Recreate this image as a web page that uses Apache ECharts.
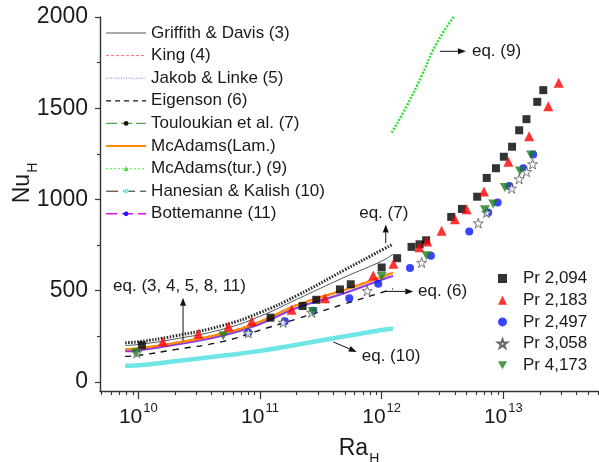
<!DOCTYPE html>
<html>
<head>
<meta charset="utf-8">
<script src="https://cdn.jsdelivr.net/npm/echarts@6/dist/echarts.min.js"></script>
<style>
  html, body { margin: 0; padding: 0; background: #fff; }
  #chart { width: 599px; height: 462px; }
</style>
</head>
<body>
<div id="chart"></div>
<script>
// ---- correlation curves: Ra_H sample points and Nu_H per correlation ----
const curveRa = [7.8e9, 1e10, 2e10, 5e10, 1e11, 2e11, 5e11, 1e12, 1.24e12];
const nuGriffith   = [200, 205, 235, 290, 360, 452, 575, 662, 700];
const nuKing       = [181, 187, 217, 270, 334, 424, 510, 580, 603];
const nuJakob      = [170, 175, 206, 257, 320, 407, 490, 563, 583];
const nuEigenson   = [140, 145, 177, 222, 284, 345, 428, 490, 510];
const nuTouloukian = [215, 220, 252, 310, 380, 472, 615, 722, 755];
const nuMcAdamsLam = [178, 184, 213, 266, 330, 420, 505, 575, 598];
const nuHanesian   = [88, 91, 113, 144, 170, 204, 250, 284, 292];
const nuBottemanne = [168, 173, 204, 255, 318, 405, 487, 560, 580];
// turbulent McAdams branch (runs off the top of the plot)
const raMcAdamsTur = [1.21e12, 1.6e12, 2.14e12, 2.8e12, 3.9e12];
const nuMcAdamsTur = [1366, 1510, 1680, 1850, 2000];

// ---- measurements, one pair of arrays per Prandtl number ----
const ra2094 = [1.07e10, 1.22e11, 2.24e11, 2.90e11, 4.54e11, 5.57e11, 1.0e12, 1.34e12, 1.76e12, 2.05e12, 2.32e12,
                3.73e12, 4.57e12, 6.1e12, 7.3e12, 8.7e12, 1.01e13, 1.18e13, 1.35e13, 1.55e13, 1.90e13, 2.13e13];
const nu2094 = [201, 352, 416, 450, 507, 535, 627, 678, 740, 754, 776,
                904, 948, 1015, 1118, 1171, 1234, 1289, 1379, 1440, 1535, 1599];
const ra2183 = [1.59e10, 3.11e10, 5.5e10, 8.55e10, 1.82e11, 3.42e11, 8.53e11, 1.25e12, 2.04e12, 2.37e12,
                3.11e12, 4.0e12, 4.99e12, 6.93e12, 1.10e13, 1.63e13, 2.34e13, 2.85e13];
const nu2183 = [222, 264, 304, 332, 396, 459, 583, 647, 738, 769,
                828, 892, 946, 1043, 1207, 1347, 1511, 1639];
const ra2497 = [8.02e10, 1.60e11, 2.74e11, 5.42e11, 9.37e11, 1.71e12, 2.54e12, 5.25e12, 7.51e12, 8.98e12,
                1.12e13, 1.46e13, 1.76e13];
const nu2497 = [271, 332, 390, 459, 538, 624, 691, 824, 928, 983, 1074, 1171, 1247];
const ra3058 = [9.7e9, 8.0e10, 1.55e11, 2.66e11, 7.62e11, 2.13e12, 6.22e12, 7.29e12, 1.17e13, 1.35e13, 1.55e13, 1.74e13];
const nu3058 = [159, 268, 326, 381, 499, 654, 870, 928, 1061, 1112, 1152, 1194];
const ra4173 = [9.6e9, 4.99e10, 2.71e11, 1.0e12, 2.34e12, 7.06e12, 8.26e12, 1.03e13, 1.37e13, 1.69e13];
const nu4173 = [159, 253, 386, 578, 691, 943, 975, 1065, 1156, 1243];

// ---- axis ticks ----
const xMajorTicks = [1e10, 1e11, 1e12, 1e13];
const yMajorTicks = [0, 500, 1000, 1500, 2000];
const yMinorTicks = [250, 750, 1250, 1750];
const xMin = 4.84e9, xMax = 6e13;
const yMin = -50, yMax = 2000;

const xMinorTicks = [];
for (let d = 9; d <= 13; d++) {
  for (let k = 2; k <= 9; k++) {
    const v = k * Math.pow(10, d);
    if (v >= xMin && v <= xMax) xMinorTicks.push(v);
  }
}

const FONT = 'Liberation Sans, Arial, Helvetica, sans-serif';
const TEXT = '#1a1a1a';
const AXIS = '#333';

const pairs = (xs, ys) => xs.map((x, i) => [x, ys[i]]);

function curve(name, ys, lineStyle) {
  return {
    name, type: 'line', data: pairs(curveRa, ys),
    smooth: true, symbol: 'circle', showSymbol: false,
    lineStyle, itemStyle: { color: lineStyle.color }, z: 2
  };
}

function points(name, xs, ys, symbol, size, itemStyle) {
  return {
    name, type: 'scatter', data: pairs(xs, ys),
    symbol, symbolSize: size, itemStyle, z: 5
  };
}

const starPath = 'path://M50,0 L61.8,35.1 L98.9,35.1 L68.8,56.7 L80.2,91.9 L50,70.2 L19.8,91.9 L31.2,56.7 L1.1,35.1 L38.2,35.1 Z';
const downTri = 'path://M0,0 L10,0 L5,9 Z';

const series = [
  curve('Hanesian & Kalish (10)', nuHanesian, { color: '#6fe6e6', width: 4.5 }),
  curve('Eigenson (6)', nuEigenson, { color: '#111', width: 1.4, type: [6, 6] }),
  curve('Jakob & Linke (5)', nuJakob, { color: '#6666dd', width: 1, type: [1, 2] }),
  curve('Bottemanne (11)', nuBottemanne, { color: '#8d3fe0', width: 2.2 }),
  curve('King (4)', nuKing, { color: '#ff5a6e', width: 1, type: [4, 3] }),
  curve('McAdams(Lam.)', nuMcAdamsLam, { color: '#ff8a00', width: 2.2 }),
  curve('Griffith & Davis (3)', nuGriffith, { color: '#555', width: 1 }),
  curve('Touloukian et al. (7)', nuTouloukian, { color: '#2a2a2a', width: 3, type: [1.5, 1.5] }),
  {
    name: 'McAdams(tur.) (9)', type: 'line', data: pairs(raMcAdamsTur, nuMcAdamsTur),
    smooth: true, symbol: 'triangle', showSymbol: false,
    lineStyle: { color: '#33dd33', width: 2.5, type: [2, 1.5] },
    itemStyle: { color: '#33dd33' }, z: 2
  },
  points('Pr 2,094', ra2094, nu2094, 'rect', 8, { color: '#000' }),
  points('Pr 2,183', ra2183, nu2183, 'triangle', 10, { color: '#ff0000' }),
  points('Pr 2,497', ra2497, nu2497, 'circle', 8, { color: '#0a14ff' }),
  points('Pr 3,058', ra3058, nu3058, starPath, 10, { color: '#fff', borderColor: '#444', borderWidth: 0.9 }),
  points('Pr 4,173', ra4173, nu4173, downTri, [10, 9], { color: '#1e7d1e' })
];

const hidden = { opacity: 0 };
const curveLegend = [
  { name: 'Griffith & Davis (3)', itemStyle: hidden, lineStyle: { color: '#555', width: 1, type: 'solid' } },
  { name: 'King (4)', itemStyle: hidden, lineStyle: { color: '#ff6a7a', width: 1, type: [3, 2] } },
  { name: 'Jakob & Linke (5)', itemStyle: hidden, lineStyle: { color: '#7777dd', width: 1, type: [1, 1.5] } },
  { name: 'Eigenson (6)', itemStyle: hidden, lineStyle: { color: '#111', width: 1.3, type: [5, 4] } },
  { name: 'Touloukian et al. (7)', itemStyle: { color: '#111' }, lineStyle: { color: '#4aa84a', width: 1.2, type: [11, 4] } },
  { name: 'McAdams(Lam.)', itemStyle: hidden, lineStyle: { color: '#ff8a00', width: 2.2, type: 'solid' } },
  { name: 'McAdams(tur.) (9)', itemStyle: { color: '#44dd44' }, lineStyle: { color: '#66ee66', width: 1.2, type: [2, 2] } },
  { name: 'Hanesian & Kalish (10)', itemStyle: { color: '#8fe8e8' }, lineStyle: { color: '#222', width: 1, type: [12, 5] } },
  { name: 'Bottemanne (11)', itemStyle: { color: '#1a1aff' }, lineStyle: { color: '#e010e0', width: 1.6, type: [11, 5] } }
];

const chart = echarts.init(document.getElementById('chart'), null, { renderer: 'canvas' });

const sup = (v) => '{b|10}{s|' + Math.round(Math.log10(v)) + '}';

chart.setOption({
  animation: false,
  backgroundColor: '#fff',
  textStyle: { fontFamily: FONT, color: TEXT },
  grid: { left: 100, right: 1, top: 17, bottom: 71, containLabel: false, outerBoundsMode: 'none' },
  legend: [
    {
      orient: 'vertical', left: 105, top: 24, padding: 0,
      itemWidth: 40, itemHeight: 6, itemGap: 4.6,
      selectedMode: false,
      textStyle: { fontSize: 17, lineHeight: 18, color: TEXT, fontFamily: FONT },
      data: curveLegend
    },
    {
      orient: 'vertical', left: 497, top: 270, padding: 0,
      itemWidth: 9, itemHeight: 9, itemGap: 4.7,
      selectedMode: false,
      textStyle: { fontSize: 17, lineHeight: 17, color: TEXT, fontFamily: FONT, padding: [0, 0, 0, 11] },
      data: ['Pr 2,094', 'Pr 2,183', 'Pr 2,497', 'Pr 3,058', 'Pr 4,173']
    }
  ],
  xAxis: [
    {
      type: 'log', logBase: 10, min: xMin, max: xMax, position: 'bottom',
      name: '{a|Ra}{h|H}', nameLocation: 'middle', nameGap: 43, nameMoveOverlap: false,
      nameTextStyle: {
        padding: [0, 0, 0, 20],
        rich: {
          a: { fontSize: 23, fontFamily: FONT, color: TEXT, lineHeight: 26, verticalAlign: 'bottom' },
          h: { fontSize: 14, fontFamily: FONT, color: TEXT, lineHeight: 20, verticalAlign: 'bottom', padding: [0, 0, -6, 1] }
        }
      },
      axisLine: { onZero: false, lineStyle: { color: AXIS, width: 1.4 } },
      axisTick: { customValues: xMajorTicks, length: 8, lineStyle: { color: AXIS, width: 1.2 } },
      axisLabel: {
        customValues: xMajorTicks, margin: 11, color: TEXT,
        formatter: sup,
        rich: {
          b: { fontSize: 21, fontFamily: FONT, color: TEXT, lineHeight: 26, verticalAlign: 'bottom' },
          s: { fontSize: 13, fontFamily: FONT, color: TEXT, lineHeight: 14, verticalAlign: 'top', padding: [0, 0, 0, 1] }
        }
      },
      splitLine: { show: false },
      minorTick: { show: false }
    },
    {
      type: 'log', logBase: 10, min: xMin, max: xMax, position: 'bottom',
      axisLine: { show: false, onZero: false },
      axisTick: { customValues: xMinorTicks, length: 4, lineStyle: { color: AXIS, width: 1.1 } },
      axisLabel: { show: false },
      splitLine: { show: false }
    }
  ],
  yAxis: [
    {
      type: 'value', min: yMin, max: yMax, position: 'left',
      name: '{a|Nu}{h|H}', nameLocation: 'middle', nameGap: 66, nameRotate: 90, nameMoveOverlap: false,
      nameTextStyle: {
        padding: [0, 0, 0, 42],
        rich: {
          a: { fontSize: 23, fontFamily: FONT, color: TEXT, lineHeight: 26, verticalAlign: 'bottom' },
          h: { fontSize: 14, fontFamily: FONT, color: TEXT, lineHeight: 20, verticalAlign: 'bottom', padding: [0, 0, -6, 1] }
        }
      },
      axisLine: { show: true, onZero: false, lineStyle: { color: AXIS, width: 1.4 } },
      axisTick: { show: true, customValues: yMajorTicks, length: 5, lineStyle: { color: AXIS, width: 1.2 } },
      axisLabel: {
        customValues: yMajorTicks, margin: 12, fontSize: 23, fontFamily: FONT, color: TEXT,
        formatter: (v) => String(v)
      },
      splitLine: { show: false }
    },
    {
      type: 'value', min: yMin, max: yMax, position: 'left', offset: 0,
      axisLine: { show: false, onZero: false },
      axisTick: { show: true, customValues: yMinorTicks, length: 3, lineStyle: { color: AXIS, width: 1.1 } },
      axisLabel: { show: false },
      splitLine: { show: false }
    }
  ],
  series
});

// ---- equation call-outs, anchored in data space ----
const notes = [
  { text: 'eq. (7)', from: [1.08e12, 760], to: [1.08e12, 862], at: [1.04e12, 924], align: 'center' },
  { text: 'eq. (3, 4, 5, 8, 11)', from: [2.33e10, 226], to: [2.33e10, 461], at: [2.18e10, 525], align: 'center' },
  { text: 'eq. (6)', from: [1.08e12, 496], to: [1.82e12, 496], at: [1.99e12, 496], align: 'left' },
  { text: 'eq. (10)', from: [4.0e11, 219], to: [6.24e11, 164], at: [6.86e11, 140], align: 'left' },
  { text: 'eq. (9)', from: [3.01e12, 1812], to: [4.93e12, 1812], at: [5.52e12, 1812], align: 'left' }
];

const toPx = (p) => chart.convertToPixel({ xAxisIndex: 0, yAxisIndex: 0 }, p);
const graphics = [];
notes.forEach((n) => {
  const a = toPx(n.from), b = toPx(n.to), t = toPx(n.at);
  const dx = b[0] - a[0], dy = b[1] - a[1];
  const len = Math.hypot(dx, dy);
  const ux = dx / len, uy = dy / len;
  const head = 8, half = 3;
  const bx = b[0] - ux * head, by = b[1] - uy * head;
  graphics.push({
    type: 'line', silent: true, z: 10,
    shape: { x1: a[0], y1: a[1], x2: bx, y2: by },
    style: { stroke: '#111', lineWidth: 1 }
  });
  graphics.push({
    type: 'polygon', silent: true, z: 10,
    shape: { points: [[b[0], b[1]], [bx - uy * half, by + ux * half], [bx + uy * half, by - ux * half]] },
    style: { fill: '#111' }
  });
  graphics.push({
    type: 'text', silent: true, z: 10, x: t[0], y: t[1],
    style: { text: n.text, fontSize: 17, fontFamily: FONT, fill: TEXT, align: n.align, verticalAlign: 'middle' }
  });
});
chart.setOption({ graphic: graphics });
</script>
</body>
</html>
